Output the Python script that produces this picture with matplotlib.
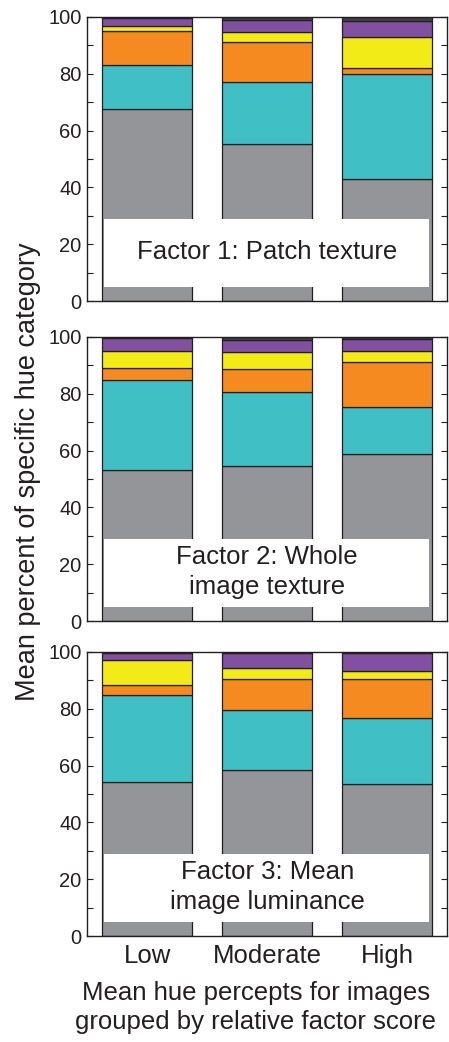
#!/usr/bin/env python3
"""Stacked hue-category bars for low/moderate/high factor score groups."""

import numpy as np
import matplotlib.pyplot as plt
from matplotlib.patches import Rectangle
from matplotlib.ticker import MultipleLocator

plt.rcParams["font.family"] = ["Liberation Sans", "DejaVu Sans"]

groups = ["Low", "Moderate", "High"]
panel_titles = ["Factor 1: Patch texture",
                "Factor 2: Whole\nimage texture",
                "Factor 3: Mean\nimage luminance"]

# percent per hue category (gray, teal, orange, yellow, purple, dark), per group
f1_gray = [67.7, 55.2, 42.9]
f1_teal = [15.4, 22.0, 37.1]
f1_orange = [12.0, 14.1, 1.9]
f1_yellow = [1.6, 3.4, 11.2]
f1_purple = [2.9, 4.4, 5.5]
f1_dark = [0.4, 0.9, 1.4]

f2_gray = [53.1, 54.6, 58.9]
f2_teal = [31.9, 26.1, 16.6]
f2_orange = [4.2, 8.2, 15.7]
f2_yellow = [5.8, 5.8, 3.8]
f2_purple = [4.6, 4.4, 4.3]
f2_dark = [0.4, 0.9, 0.7]

f3_gray = [54.2, 58.4, 53.6]
f3_teal = [30.8, 21.2, 23.0]
f3_orange = [3.3, 11.0, 14.0]
f3_yellow = [9.0, 3.9, 2.8]
f3_purple = [2.5, 5.0, 6.1]
f3_dark = [0.2, 0.5, 0.5]

panels = [
    [f1_gray, f1_teal, f1_orange, f1_yellow, f1_purple, f1_dark],
    [f2_gray, f2_teal, f2_orange, f2_yellow, f2_purple, f2_dark],
    [f3_gray, f3_teal, f3_orange, f3_yellow, f3_purple, f3_dark],
]
colors = ["#939598", "#40c0c5", "#f58a20", "#f2eb17", "#8150a0", "#414042"]

fig = plt.figure(figsize=(4.49, 10.42), dpi=100)
rects = [
    [0.1944, 0.7111, 0.8011, 0.2726],
    [0.1944, 0.4040, 0.8011, 0.2726],
    [0.1944, 0.1017, 0.8011, 0.2726],
]
x = np.arange(1, 4)

for i, (series, title) in enumerate(zip(panels, panel_titles)):
    ax = fig.add_axes(rects[i])
    bottom = np.zeros(3)
    for vals, col in zip(series, colors):
        ax.bar(x, vals, width=0.75, bottom=bottom, color=col,
               edgecolor="#231f20", linewidth=0.9, zorder=2)
        bottom += np.array(vals)

    # white label panel over the lower part of the bars
    ax.add_patch(Rectangle((0.64, 5), 2.71, 24, facecolor="white",
                           edgecolor="none", zorder=3))
    ax.text(2.0, 17.3, title, ha="center", va="center", fontsize=18.5,
            color="#231f20", linespacing=1.3, zorder=4)

    ax.set_xlim(0.5, 3.5)
    ax.set_ylim(0, 100)
    ax.yaxis.set_major_locator(MultipleLocator(20))
    ax.yaxis.set_minor_locator(MultipleLocator(10))
    ax.tick_params(axis="y", which="both", direction="in", left=True,
                   right=True, length=4, width=0.8, labelsize=14.5,
                   colors="#231f20", pad=4)
    ax.set_xticks(x)
    if i == 2:
        ax.set_xticklabels(groups, fontsize=18.5, color="#231f20")
        ax.tick_params(axis="x", length=0, pad=6)
    else:
        ax.set_xticklabels([])
        ax.tick_params(axis="x", length=0)
    for sp in ax.spines.values():
        sp.set_linewidth(1.0)
        sp.set_color("#231f20")

fig.text(0.062, 0.547, "Mean percent of specific hue category", rotation=90,
         ha="center", va="center", fontsize=19.5, color="#231f20")
fig.text(0.57, 0.033, "Mean hue percepts for images\ngrouped by relative factor score",
         ha="center", va="center", fontsize=18.5, color="#231f20",
         linespacing=1.3)

fig.savefig("out.png", dpi=100)
